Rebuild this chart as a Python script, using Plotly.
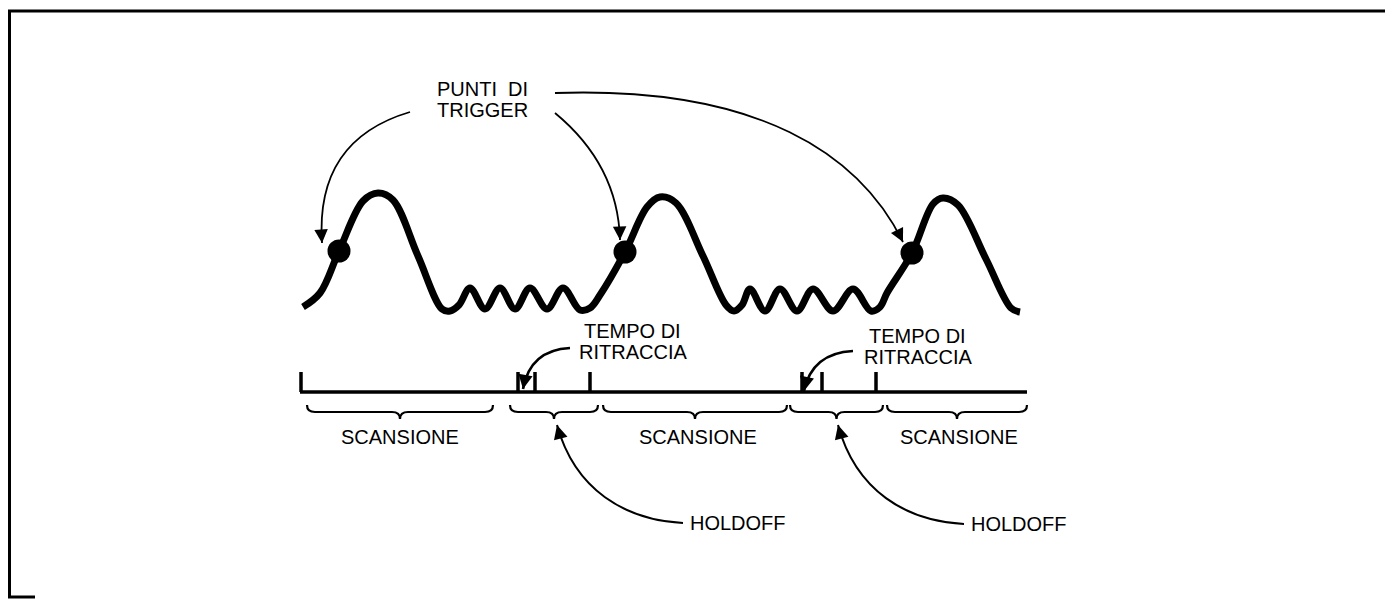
import math
import plotly.graph_objects as go

W, H = 1393, 609
OFF = 8  # default page margin of the HTML body

# ---------------- data (pixel-like units) ----------------
wave_x = [303, 320, 339, 363, 378, 393, 418, 442, 450, 459,
          470, 485, 500, 515, 530, 547, 563, 580, 590, 600,
          625, 647, 660, 676, 703, 726, 734, 742,
          750, 765, 780, 797, 813, 833, 853, 871, 880, 887,
          912, 933, 943, 958, 986, 1011, 1020]
wave_y = [307, 293, 251, 201, 193, 200, 256, 309, 311, 305,
          288, 309, 288, 309, 288, 309, 288, 310, 308, 295,
          252, 207, 197, 203, 256, 305, 311, 305,
          289, 311, 289, 311, 289, 311, 289, 311, 307, 293,
          253, 204, 198, 205, 259, 308, 312]

trigger_x = [339, 625, 912]
trigger_y = [251, 252, 253]

baseline_x = [300, 1027]
baseline_y = 392
tick_x = [301, 518, 535, 590, 802, 822, 876]
tick_top = 372

brace_x0 = [307, 510, 603, 790, 887]
brace_x1 = [493, 598, 787, 883, 1027]
brace_top, brace_mid, brace_tip = 405, 412, 419

trigger_arrows = [
    [(410, 112), (315, 140), (322, 243)],
    [(555, 113), (618, 165), (620, 240)],
    [(555, 93), (760, 86), (860, 155), (903, 242)],
]
retrace_arrows = [
    [(570, 348), (530, 350), (523, 389)],
    [(853, 351), (812, 353), (804, 391)],
]
holdoff_arrows = [
    [(683, 523), (625, 520), (575, 490), (557, 425)],
    [(964, 524), (906, 521), (856, 491), (838, 425)],
]

label_text = ["PUNTI\u00a0 DI", "TRIGGER", "TEMPO DI", "RITRACCIA", "TEMPO DI", "RITRACCIA",
              "SCANSIONE", "SCANSIONE", "SCANSIONE", "HOLDOFF", "HOLDOFF"]
label_x = [435, 435, 632, 633, 917, 918, 400, 698, 959, 688, 969]
label_y = [89, 110, 331, 352, 336, 357, 437, 437, 437, 523, 524]
label_anchor = ["left", "left", "center", "center", "center", "center",
                "center", "center", "center", "left", "left"]

FONT = "Liberation Sans, Arial, Helvetica, sans-serif"
BLACK = "#000000"

fig = go.Figure()

# waveform
fig.add_trace(go.Scatter(x=wave_x, y=wave_y, mode="lines",
                         line=dict(color=BLACK, width=7, shape="spline", smoothing=1.0),
                         hoverinfo="skip", showlegend=False))
# trigger points
fig.add_trace(go.Scatter(x=trigger_x, y=trigger_y, mode="markers",
                         marker=dict(color=BLACK, size=23),
                         hoverinfo="skip", showlegend=False))

# timeline: baseline + ticks
tx, ty = [baseline_x[0], baseline_x[1], None], [baseline_y, baseline_y, None]
for t in tick_x:
    tx += [t, t, None]
    ty += [tick_top, baseline_y, None]
fig.add_trace(go.Scatter(x=tx, y=ty, mode="lines",
                         line=dict(color=BLACK, width=3.5),
                         hoverinfo="skip", showlegend=False))

shapes = []

# braces
for a, b in zip(brace_x0, brace_x1):
    m = (a + b) / 2
    r = 8
    p = (f"M {a},{brace_top} Q {a},{brace_mid} {a + r},{brace_mid} "
         f"L {m - r},{brace_mid} Q {m},{brace_mid} {m},{brace_tip} "
         f"Q {m},{brace_mid} {m + r},{brace_mid} "
         f"L {b - r},{brace_mid} Q {b},{brace_mid} {b},{brace_top}")
    shapes.append(dict(type="path", path=p, xref="x", yref="y",
                       line=dict(color=BLACK, width=2.2)))


def curve_path(pts):
    s = f"M {pts[0][0]},{pts[0][1]} "
    if len(pts) == 3:
        s += f"Q {pts[1][0]},{pts[1][1]} {pts[2][0]},{pts[2][1]}"
    else:
        s += f"C {pts[1][0]},{pts[1][1]} {pts[2][0]},{pts[2][1]} {pts[3][0]},{pts[3][1]}"
    return s


annotations = []


def add_arrow(pts, width, head_len=12, headsize=1.3):
    shapes.append(dict(type="path", path=curve_path(pts), xref="x", yref="y",
                       line=dict(color=BLACK, width=width)))
    tip, prev = pts[-1], pts[-2]
    dx, dy = tip[0] - prev[0], tip[1] - prev[1]
    n = math.hypot(dx, dy)
    annotations.append(dict(x=tip[0], y=tip[1], ax=tip[0] - head_len * dx / n,
                            ay=tip[1] - head_len * dy / n, xref="x", yref="y",
                            axref="x", ayref="y", text="", showarrow=True,
                            arrowhead=2, arrowsize=headsize, arrowwidth=width,
                            arrowcolor=BLACK, standoff=0, startstandoff=0))


for pts in trigger_arrows:
    add_arrow(pts, 1.8, 12, 1.5)
for pts in retrace_arrows:
    add_arrow(pts, 2.6, 10, 1.1)
for pts in holdoff_arrows:
    add_arrow(pts, 2.0, 12, 1.4)

for t, x, y, anc in zip(label_text, label_x, label_y, label_anchor):
    annotations.append(dict(x=x, y=y, xref="x", yref="y", text=t, showarrow=False,
                            xanchor=anc, yanchor="middle",
                            font=dict(family=FONT, size=20, color=BLACK)))

# frame lines (border of the scanned page)
shapes += [
    dict(type="line", x0=7, x1=W, y0=11, y1=11, xref="x", yref="y",
         line=dict(color=BLACK, width=3)),
    dict(type="line", x0=9, x1=9, y0=10, y1=597, xref="x", yref="y",
         line=dict(color=BLACK, width=4)),
    dict(type="line", x0=7, x1=35, y0=597, y1=597, xref="x", yref="y",
         line=dict(color=BLACK, width=3)),
]

fig.update_layout(
    width=W - OFF, height=H - 2 * OFF,
    margin=dict(l=0, r=0, t=0, b=0),
    paper_bgcolor="white", plot_bgcolor="white",
    xaxis=dict(range=[OFF, W], visible=False, fixedrange=True),
    yaxis=dict(range=[H - OFF, OFF], visible=False, fixedrange=True),
    shapes=shapes, annotations=annotations,
    showlegend=False,
)

fig.write_html("out.html")
